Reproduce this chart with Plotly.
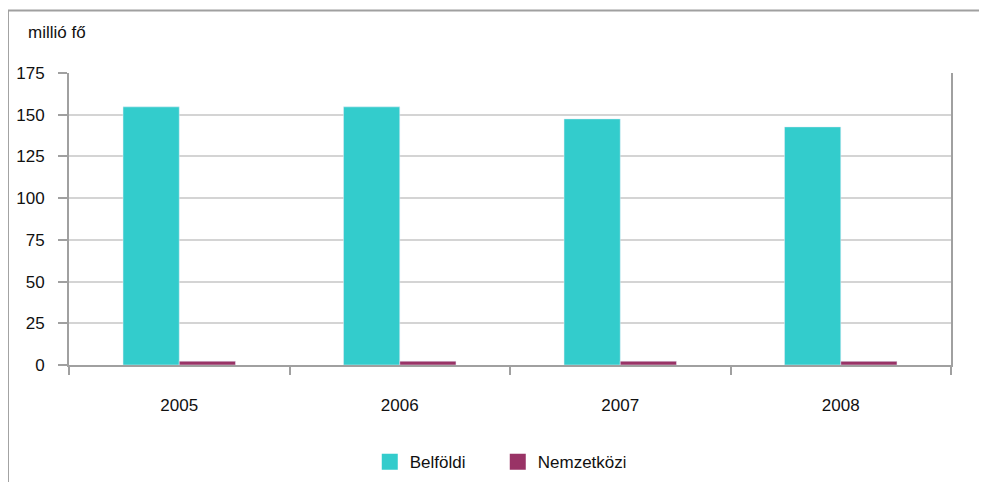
import plotly.graph_objects as go

years = ["2005", "2006", "2007", "2008"]
belfoldi = [154.7, 154.7, 147.5, 142.7]
nemzetkozi = [2.3, 2.3, 2.3, 2.2]

TEAL = "#33CCCC"
PURPLE = "#993366"
GRID = "#D4D4D4"
AXIS = "#A0A0A0"
FONT = "Liberation Sans, Arial, sans-serif"

fig = go.Figure()
fig.add_trace(go.Bar(x=years, y=belfoldi, name="Belföldi",
                     marker_color=TEAL, showlegend=False))
fig.add_trace(go.Bar(x=years, y=nemzetkozi, name="Nemzetközi",
                     marker_color=PURPLE, showlegend=False))

# legend entries with larger square swatches
for name, col in [("Belföldi", TEAL), ("Nemzetközi", PURPLE)]:
    fig.add_trace(go.Scatter(x=[None], y=[None], mode="markers", name=name,
                             marker=dict(symbol="square", size=16, color=col)))

# outer frame of the chart
fig.add_shape(type="rect", xref="paper", yref="paper",
              x0=-0.0692, x1=1.2, y0=-0.6, y1=1.214,
              line=dict(color=AXIS, width=2))

fig.add_annotation(text="millió fő", xref="paper", yref="paper",
                   x=-0.0488, y=1.14, xanchor="left", yanchor="middle",
                   showarrow=False, font=dict(family=FONT, size=17, color="#111"))

fig.update_layout(
    width=979, height=474,
    margin=dict(l=61, r=36, t=65, b=117),
    paper_bgcolor="white", plot_bgcolor="white",
    barmode="group", bargap=0.49, bargroupgap=0,
    font=dict(family=FONT, size=17, color="#111"),
    legend=dict(orientation="h", x=0.341, xanchor="left",
                yref="container", y=0.042, yanchor="middle",
                font=dict(family=FONT, size=17),
                itemwidth=30, entrywidth=83),
    xaxis=dict(type="category", tickson="boundaries", ticks="outside",
               ticklen=8, tickwidth=2, tickcolor=AXIS,
               showline=True, linecolor=AXIS, linewidth=2,
               showgrid=False, ticklabelstandoff=24, automargin=False),
    yaxis=dict(range=[0, 175], tickvals=[0, 25, 50, 75, 100, 125, 150, 175],
               ticks="outside", ticklen=9, tickwidth=2, tickcolor=AXIS,
               showline=True, linecolor=AXIS, linewidth=2, mirror=True,
               showgrid=True, gridcolor=GRID, gridwidth=2,
               zeroline=False, ticklabelstandoff=10, automargin=False),
)

fig.write_html("out.html")
